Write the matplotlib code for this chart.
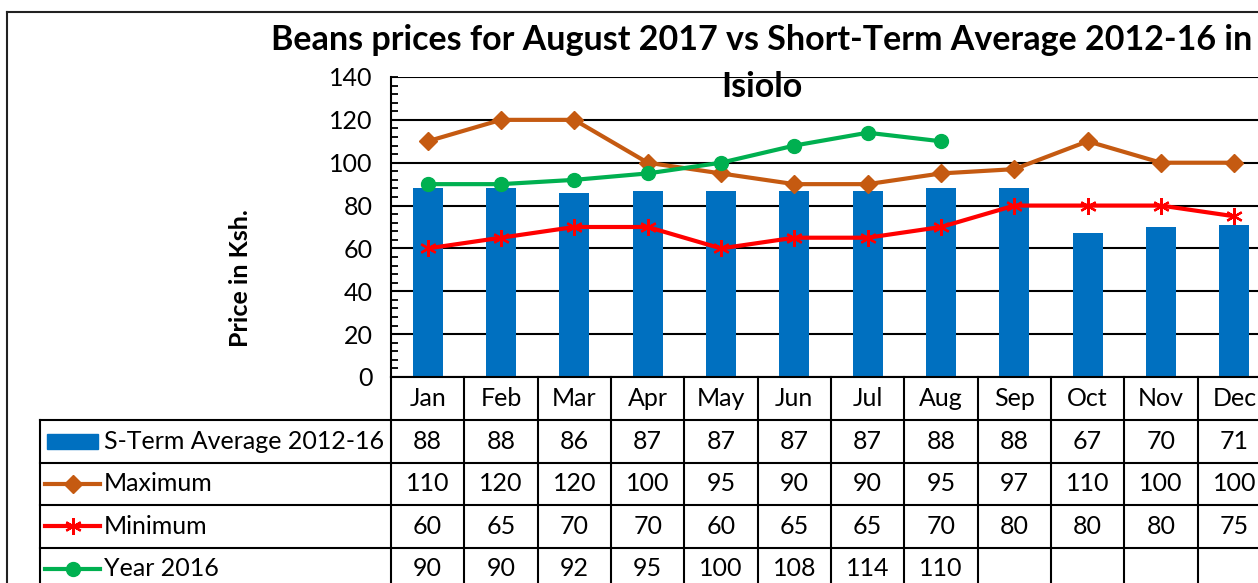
import matplotlib.pyplot as plt
import matplotlib.transforms as mtransforms
from matplotlib.lines import Line2D
from matplotlib.patches import Rectangle

months = ["Jan", "Feb", "Mar", "Apr", "May", "Jun", "Jul", "Aug", "Sep", "Oct", "Nov", "Dec"]
avg = [88, 88, 86, 87, 87, 87, 87, 88, 88, 67, 70, 71]
maximum = [110, 120, 120, 100, 95, 90, 90, 95, 97, 110, 100, 100]
minimum = [60, 65, 70, 70, 60, 65, 65, 70, 80, 80, 80, 75]
year2016 = [90, 90, 92, 95, 100, 108, 114, 110]
names = ["S-Term Average 2012-16", "Maximum", "Minimum", "Year 2016"]

W, H = 1258, 583
BLUE, ORANGE, RED, GREEN = "#0070C0", "#C55A11", "#FF0000", "#00B050"
plt.rcParams["font.family"] = ["Lato", "DejaVu Sans"]

fig = plt.figure(figsize=(W / 100, H / 100), dpi=100)
# plot area: left 391px, bottom 377px, 300px high, 12 columns of ~73px (runs past right edge)
ax = fig.add_axes([391 / W, 1 - 377 / H, 880 / W, 300 / H])

x = list(range(len(months)))
ax.bar(x, avg, width=0.41, color=BLUE, zorder=2)
ax.plot(x, maximum, color=ORANGE, lw=3, marker="D", ms=9, zorder=3)
ax.plot(x, minimum, color=RED, lw=3, marker=(6, 2, 0), ms=12, mew=1.6, zorder=3)
ax.plot(x[:len(year2016)], year2016, color=GREEN, lw=3, marker="o", ms=10, zorder=4)

ax.set_xlim(-0.5, 11.5)
ax.set_ylim(0, 140)
ax.set_xticks([])
ax.set_yticks(range(0, 141, 20))
ax.set_yticks(range(0, 141, 4), minor=True)
ax.yaxis.grid(True, color="black", lw=1.5)
ax.set_axisbelow(True)
ax.tick_params(axis="y", which="both", direction="in", labelsize=18, pad=13, width=1.3)
ax.tick_params(axis="y", which="major", length=5)
ax.tick_params(axis="y", which="minor", length=5)
for s in ["top", "right"]:
    ax.spines[s].set_visible(False)
for s in ["left", "bottom"]:
    ax.spines[s].set_linewidth(1.5)

fig.text(762 / W, 1 - 40 / H, "Beans prices for August 2017 vs Short-Term Average 2012-16 in",
         ha="center", va="center", fontsize=24.5, fontweight="bold")
fig.text(762 / W, 1 - 87 / H, "Isiolo", ha="center", va="center", fontsize=24.5, fontweight="bold")
fig.text(240 / W, 1 - 278 / H, "Price in Ksh.", rotation=90, ha="center", va="center",
         fontsize=18, fontweight="bold")

# data table under the plot
trans = mtransforms.blended_transform_factory(ax.transData, ax.transAxes)
unit = 880 / 12


def dx(px):
    return -0.5 + (px - 391) / unit


def ay(py):
    return (377 - py) / 300


rows = [377, 420, 462.5, 505, 547.5, 590]
for py in rows[1:-1]:
    ax.add_line(Line2D([dx(40), 11.5], [ay(py)] * 2, transform=trans, color="black",
                       lw=1.5, clip_on=False))
for i in range(13):
    ax.add_line(Line2D([i - 0.5] * 2, [0, ay(600)], transform=trans, color="black",
                       lw=1.5, clip_on=False))
ax.add_line(Line2D([dx(40)] * 2, [ay(420), ay(600)], transform=trans, color="black",
                   lw=1.5, clip_on=False))

for i, m in enumerate(months):
    ax.text(i, ay((rows[0] + rows[1]) / 2), m, transform=trans, ha="center", va="center",
            fontsize=18)

table = [avg, maximum, minimum, year2016]
for r, vals in enumerate(table):
    yc = ay((rows[r + 1] + rows[r + 2]) / 2)
    for i, v in enumerate(vals):
        ax.text(i, yc, str(v), transform=trans, ha="center", va="center", fontsize=18)
    ax.text(dx(104), yc, names[r], transform=trans, ha="left", va="center", fontsize=18)

# legend keys inside the table
yc0 = ay((rows[1] + rows[2]) / 2)
ax.add_patch(Rectangle((dx(47), yc0 - 7.5 / 300), dx(98) - dx(47), 15 / 300, transform=trans,
                       color=BLUE, clip_on=False))
keys = [(ORANGE, "D", 9, 1), (RED, (6, 2, 0), 12, 1.6), (GREEN, "o", 10, 1)]
for k, (c, mk, ms, mew) in enumerate(keys):
    yc = ay((rows[k + 2] + rows[k + 3]) / 2)
    ax.add_line(Line2D([dx(45), dx(100)], [yc, yc], transform=trans, color=c, lw=3,
                       clip_on=False))
    ax.add_line(Line2D([dx(73)], [yc], transform=trans, color=c, marker=mk, ms=ms, mew=mew,
                       clip_on=False))

# outer chart border
fig.add_artist(Line2D([7 / W, 7 / W], [1 - 12 / H, 0], color="#222222", lw=1.5))
fig.add_artist(Line2D([7 / W, 1], [1 - 12 / H, 1 - 12 / H], color="#222222", lw=1.5))

fig.savefig("out.png", dpi=100)
